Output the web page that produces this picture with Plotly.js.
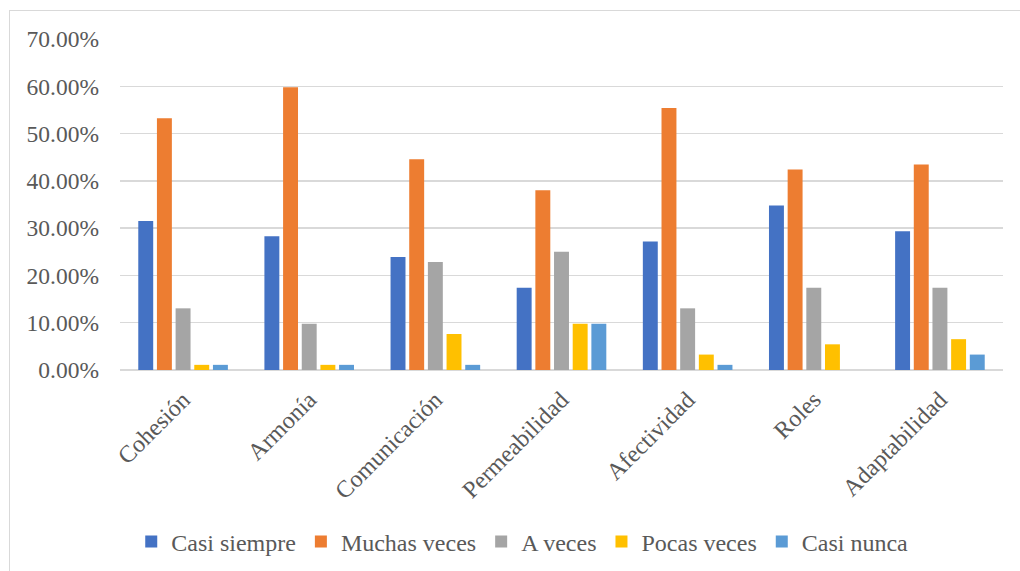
<!DOCTYPE html>
<html>
<head>
<meta charset="utf-8">
<script src="https://cdn.plot.ly/plotly-3.0.1.min.js"></script>
<style>
html,body{margin:0;padding:0;background:#fff;}
#wrap{position:relative;width:1020px;height:571px;}
#chart{position:absolute;left:0;top:0;width:1020px;height:571px;}
#frame{position:absolute;left:9px;top:10px;width:1100px;height:600px;border-left:1px solid #d9d9d9;border-top:1px solid #d9d9d9;pointer-events:none;}
</style>
</head>
<body>
<div id="wrap"><div id="chart"></div><div id="frame"></div></div>
<script>
var categories = ["Cohesión", "Armonía", "Comunicación", "Permeabilidad", "Afectividad", "Roles", "Adaptabilidad"];
var seriesNames = ["Casi siempre", "Muchas veces", "A veces", "Pocas veces", "Casi nunca"];
var casiSiempre  = [0.3152, 0.2826, 0.2391, 0.1739, 0.2717, 0.3478, 0.2935];
var muchasVeces  = [0.5326, 0.5978, 0.4457, 0.3804, 0.5543, 0.4239, 0.4348];
var aVeces       = [0.1304, 0.0978, 0.2283, 0.2500, 0.1304, 0.1739, 0.1739];
var pocasVeces   = [0.0109, 0.0109, 0.0761, 0.0978, 0.0326, 0.0543, 0.0652];
var casiNunca    = [0.0109, 0.0109, 0.0109, 0.0978, 0.0109, 0.0000, 0.0326];
var yTickVals = [0, 0.1, 0.2, 0.3, 0.4, 0.5, 0.6, 0.7];

var colors = ["#4472C4", "#ED7D31", "#A5A5A5", "#FFC000", "#5B9BD5"];
var allSeries = [casiSiempre, muchasVeces, aVeces, pocasVeces, casiNunca];

var font = "Liberation Serif";
var traces = allSeries.map(function(vals, i){
  return {
    type: "bar",
    name: seriesNames[i],
    x: categories,
    y: vals,
    marker: {color: colors[i], line: {width: 0}},
    hoverinfo: "x+y+name"
  };
});

var layout = {
  width: 1020, height: 571,
  margin: {l: 120, r: 17, t: 39, b: 201},
  paper_bgcolor: "#ffffff",
  plot_bgcolor: "#ffffff",
  barmode: "group",
  bargap: 0.26,
  bargroupgap: 0.2,
  font: {family: font, color: "#595959", size: 24},
  xaxis: {
    tickangle: -45,
    tickfont: {family: font, size: 24, color: "#595959"},
    ticklabelstandoff: 10,
    showline: false, ticks: "", showgrid: false, zeroline: false
  },
  yaxis: {
    range: [0, 0.7],
    tickvals: yTickVals,
    tickformat: ".2%",
    tickfont: {family: font, size: 23.5, color: "#595959"},
    ticklabelstandoff: 20,
    showgrid: true, gridcolor: "#d9d9d9", gridwidth: 1.5,
    zeroline: true, zerolinecolor: "#d9d9d9", zerolinewidth: 1.5,
    showline: false, ticks: ""
  },
  showlegend: true,
  legend: {
    orientation: "h",
    xref: "container", yref: "container",
    x: 0.512, xanchor: "center",
    y: 0.051, yanchor: "middle",
    font: {family: font, size: 24, color: "#595959"},
    itemwidth: 30,
    traceorder: "normal"
  }
};

Plotly.newPlot("chart", traces, layout, {displayModeBar: false, staticPlot: true});
</script>
</body>
</html>
